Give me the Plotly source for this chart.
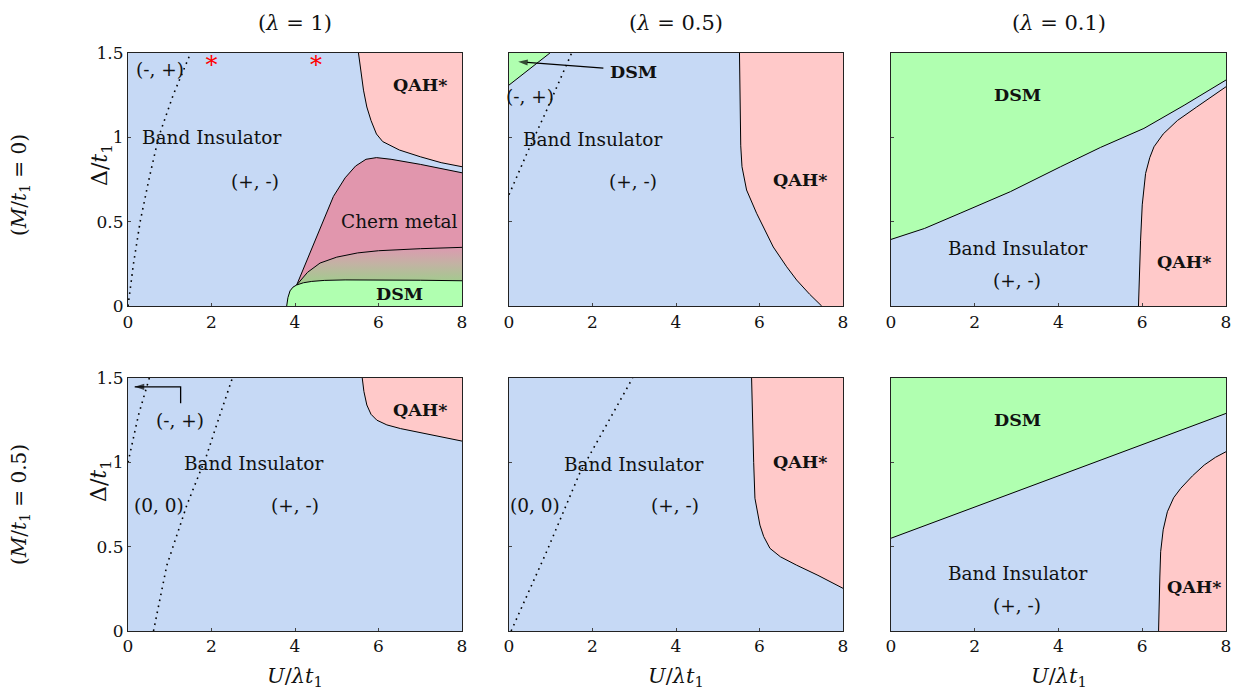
import plotly.graph_objects as go

# ---------------- colours ----------------
BLUE = '#c6d9f5'
PINK = '#ffc9c9'
GREEN = '#b0ffb0'
CHERN = '#e196ad'
FONT = 'DejaVu Serif'

# ---------------- data: panel 1 (lambda=1, M=0) ----------------
p1_dot_x = [0.0, 0.13, 0.29, 0.50, 0.73, 1.08, 1.50]
p1_dot_y = [0.0, 0.25, 0.50, 0.75, 1.00, 1.25, 1.50]
p1_qah_x = [5.52, 5.58, 5.64, 5.72, 5.82, 5.95, 6.10, 6.50, 7.00, 7.50, 8.00]
p1_qah_y = [1.50, 1.38, 1.28, 1.18, 1.10, 1.02, 0.975, 0.925, 0.885, 0.85, 0.826]
p1_chern_top_x = [4.04, 4.50, 4.92, 5.20, 5.45, 5.70, 5.95, 6.30, 7.00, 8.00]
p1_chern_top_y = [0.125, 0.40, 0.65, 0.76, 0.83, 0.87, 0.88, 0.87, 0.84, 0.79]
p1_chern_bot_x = [4.04, 4.30, 4.60, 5.00, 5.50, 6.00, 7.00, 8.00]
p1_chern_bot_y = [0.125, 0.20, 0.255, 0.29, 0.315, 0.328, 0.34, 0.348]
p1_dsm_top_x = [3.80, 3.83, 3.88, 3.95, 4.04, 4.20, 4.40, 4.70, 5.20, 6.00, 7.00, 8.00]
p1_dsm_top_y = [0.0, 0.05, 0.09, 0.112, 0.125, 0.138, 0.146, 0.152, 0.155, 0.155, 0.153, 0.150]
p1_star_x = [2.0, 4.5]
p1_star_y = [1.42, 1.42]

# ---------------- panel 2 (lambda=0.5, M=0) ----------------
p2_dsm_x = [0.0, 0.98]
p2_dsm_y = [1.31, 1.50]
p2_dot_x = [0.0, 0.42, 0.90, 1.50]
p2_dot_y = [0.66, 0.90, 1.16, 1.50]
p2_qah_x = [5.52, 5.53, 5.55, 5.58, 5.69, 5.93, 6.09, 6.33, 6.65, 6.89, 7.20, 7.49]
p2_qah_y = [1.50, 1.20, 0.95, 0.826, 0.688, 0.55, 0.47, 0.35, 0.233, 0.154, 0.07, 0.0]
p2_arrow_x = [2.26, 0.22]
p2_arrow_y = [1.41, 1.448]

# ---------------- panel 3 (lambda=0.1, M=0) ----------------
p3_dsm_x = [0.0, 0.8, 1.65, 2.85, 4.05, 5.0, 6.04, 7.0, 8.0]
p3_dsm_y = [0.395, 0.46, 0.55, 0.678, 0.826, 0.94, 1.053, 1.19, 1.34]
p3_qah_x = [5.91, 5.93, 5.96, 6.00, 6.08, 6.18, 6.28, 6.50, 6.84, 7.30, 7.70, 8.00]
p3_qah_y = [0.0, 0.20, 0.39, 0.60, 0.786, 0.88, 0.944, 1.02, 1.10, 1.18, 1.25, 1.30]

# ---------------- panel 4 (lambda=1, M=0.5) ----------------
p4_dot1_x = [0.0, 0.25, 0.51]
p4_dot1_y = [1.0, 1.28, 1.50]
p4_dot2_x = [0.61, 0.93, 1.41, 1.88, 2.20, 2.50]
p4_dot2_y = [0.0, 0.39, 0.747, 1.04, 1.28, 1.50]
p4_qah_x = [5.61, 5.65, 5.72, 5.82, 5.96, 6.20, 6.53, 7.00, 7.50, 8.00]
p4_qah_y = [1.50, 1.42, 1.34, 1.285, 1.25, 1.222, 1.20, 1.175, 1.15, 1.126]
p4_arrow_x = [1.26, 1.26, 0.16]
p4_arrow_y = [1.35, 1.448, 1.448]

# ---------------- panel 5 (lambda=0.5, M=0.5) ----------------
p5_dot_x = [0.05, 0.90, 1.70, 2.33, 2.96]
p5_dot_y = [0.0, 0.47, 0.94, 1.22, 1.50]
p5_qah_x = [5.81, 5.83, 5.86, 5.89, 5.95, 6.01, 6.10, 6.25, 6.50, 6.89, 7.40, 8.00]
p5_qah_y = [1.50, 1.25, 1.00, 0.787, 0.70, 0.628, 0.56, 0.49, 0.44, 0.39, 0.33, 0.253]

# ---------------- panel 6 (lambda=0.1, M=0.5) ----------------
p6_dsm_x = [0.0, 8.0]
p6_dsm_y = [0.55, 1.29]
p6_qah_x = [6.39, 6.40, 6.42, 6.44, 6.50, 6.60, 6.75, 6.92, 7.20, 7.48, 7.75, 8.00]
p6_qah_y = [0.0, 0.15, 0.32, 0.47, 0.60, 0.707, 0.79, 0.846, 0.92, 0.984, 1.03, 1.063]

# ---------------- text ----------------
col_titles = ['(<i>λ</i> = 1)', '(<i>λ</i> = 0.5)', '(<i>λ</i> = 0.1)']
row_titles = ['(<i>M</i>/<i>t</i><sub>1</sub> = 0)', '(<i>M</i>/<i>t</i><sub>1</sub> = 0.5)']
x_title = '<i>U</i>/<i>λt</i><sub>1</sub>'
y_title = 'Δ/<i>t</i><sub>1</sub>'
x_ticks = [0, 2, 4, 6, 8]
y_ticks = [0, 0.5, 1, 1.5]
y_ticklabels = ['0', '0.5', '1', '1.5']

# labels: (panel, x, y, text, bold)
labels = [
    (1, 0.77, 1.40, '(-, +)', False),
    (1, 2.0, 1.0, 'Band Insulator', False),
    (1, 3.04, 0.74, '(+, -)', False),
    (1, 7.0, 1.31, 'QAH*', True),
    (1, 6.5, 0.5, 'Chern metal', False),
    (1, 6.5, 0.07, 'DSM', True),
    (2, 0.5, 1.24, '(-, +)', False),
    (2, 2.01, 0.99, 'Band Insulator', False),
    (2, 2.97, 0.737, '(+, -)', False),
    (2, 6.99, 0.747, 'QAH*', True),
    (2, 2.99, 1.39, 'DSM', True),
    (3, 3.01, 1.25, 'DSM', True),
    (3, 3.01, 0.342, 'Band Insulator', False),
    (3, 3.01, 0.154, '(+, -)', False),
    (3, 7.0, 0.263, 'QAH*', True),
    (4, 1.24, 1.25, '(-, +)', False),
    (4, 3.0, 0.994, 'Band Insulator', False),
    (4, 0.75, 0.747, '(0, 0)', False),
    (4, 4.0, 0.747, '(+, -)', False),
    (4, 7.0, 1.31, 'QAH*', True),
    (5, 2.99, 0.99, 'Band Insulator', False),
    (5, 0.62, 0.747, '(0, 0)', False),
    (5, 3.98, 0.747, '(+, -)', False),
    (5, 6.99, 1.0, 'QAH*', True),
    (6, 3.01, 1.25, 'DSM', True),
    (6, 3.01, 0.342, 'Band Insulator', False),
    (6, 3.01, 0.15, '(+, -)', False),
    (6, 7.24, 0.263, 'QAH*', True),
]

# ---------------- figure ----------------
fig = go.Figure()
XD = [(0.1035, 0.3735), (0.4115, 0.6815), (0.7203, 0.9911)]
YD = [(0.559, 0.9236), (0.0908, 0.4553)]
W, H = 1237, 694


def ax(k):
    return ('x' if k == 1 else f'x{k}'), ('y' if k == 1 else f'y{k}')


def fill(k, xs, ys, color, grad=None):
    xa, ya = ax(k)
    kw = dict(fillcolor=color)
    if grad is not None:
        kw = dict(fillgradient=grad)
    fig.add_trace(go.Scatter(x=xs, y=ys, mode='lines', fill='toself',
                             line=dict(width=0), xaxis=xa, yaxis=ya,
                             hoverinfo='skip', showlegend=False, **kw))


def line(k, xs, ys, dotted=False, width=1.0):
    xa, ya = ax(k)
    ln = dict(color='black', width=width)
    if dotted:
        ln = dict(color='black', width=1.6, dash='1.6px,4.5px')
    fig.add_trace(go.Scatter(x=xs, y=ys, mode='lines', line=ln,
                             xaxis=xa, yaxis=ya, hoverinfo='skip',
                             showlegend=False))


def arrow(k, xs, ys):
    xa, ya = ax(k)
    sizes = [0] * (len(xs) - 1) + [10]
    fig.add_trace(go.Scatter(x=xs, y=ys, mode='lines+markers',
                             line=dict(color='black', width=1.3),
                             marker=dict(symbol='arrow', angleref='previous',
                                         size=sizes, color='black',
                                         line=dict(width=0)),
                             xaxis=xa, yaxis=ya, cliponaxis=False,
                             hoverinfo='skip', showlegend=False))


# panel 1
fill(1, p1_qah_x + [8, 8], p1_qah_y + [1.5, 1.5], PINK)
fill(1, p1_chern_top_x + p1_chern_bot_x[::-1], p1_chern_top_y + p1_chern_bot_y[::-1], CHERN)
fill(1, p1_chern_bot_x + p1_dsm_top_x[::-1], p1_chern_bot_y + p1_dsm_top_y[::-1], CHERN,
     grad=dict(type='vertical', start=0.15, stop=0.345,
               colorscale=[[0, '#a4c98f'], [0.5, '#c2b3a3'], [1, '#dc9bb0']]))
fill(1, p1_dsm_top_x + [8, 3.8], p1_dsm_top_y + [0, 0], GREEN)
line(1, p1_qah_x, p1_qah_y)
line(1, p1_chern_top_x, p1_chern_top_y)
line(1, p1_chern_bot_x, p1_chern_bot_y)
line(1, p1_dsm_top_x, p1_dsm_top_y)
line(1, p1_dot_x, p1_dot_y, dotted=True)
fig.add_trace(go.Scatter(x=p1_star_x, y=p1_star_y, mode='text', text=['*', '*'],
                         textfont=dict(color='red', size=24, family=FONT),
                         textposition='middle center', xaxis='x', yaxis='y',
                         cliponaxis=False, hoverinfo='skip', showlegend=False))

# panel 2
fill(2, p2_dsm_x + [0], p2_dsm_y + [1.5], GREEN)
line(2, p2_dsm_x, p2_dsm_y)
fill(2, p2_qah_x + [8, 8], p2_qah_y + [0, 1.5], PINK)
line(2, p2_qah_x, p2_qah_y)
line(2, p2_dot_x, p2_dot_y, dotted=True)
arrow(2, p2_arrow_x, p2_arrow_y)

# panel 3
fill(3, p3_dsm_x + [8, 0], p3_dsm_y + [1.5, 1.5], GREEN)
line(3, p3_dsm_x, p3_dsm_y)
fill(3, p3_qah_x + [8], p3_qah_y + [0], PINK)
line(3, p3_qah_x, p3_qah_y)

# panel 4
fill(4, p4_qah_x + [8], p4_qah_y + [1.5], PINK)
line(4, p4_qah_x, p4_qah_y)
line(4, p4_dot1_x, p4_dot1_y, dotted=True)
line(4, p4_dot2_x, p4_dot2_y, dotted=True)
arrow(4, p4_arrow_x, p4_arrow_y)

# panel 5
fill(5, p5_qah_x + [8], p5_qah_y + [1.5], PINK)
line(5, p5_qah_x, p5_qah_y)
line(5, p5_dot_x, p5_dot_y, dotted=True)

# panel 6
fill(6, p6_dsm_x + [8, 0], p6_dsm_y + [1.5, 1.5], GREEN)
line(6, p6_dsm_x, p6_dsm_y)
fill(6, p6_qah_x + [8], p6_qah_y + [0], PINK)
line(6, p6_qah_x, p6_qah_y)

# axes
layout = dict(
    width=W, height=H, autosize=False,
    margin=dict(l=0, r=0, t=0, b=0, pad=0),
    paper_bgcolor='white', plot_bgcolor=BLUE,
    font=dict(family=FONT, size=16, color='#111'),
    showlegend=False,
)
for k in range(1, 7):
    r, c = (k - 1) // 3, (k - 1) % 3
    xa, ya = ax(k)
    xname = 'xaxis' if k == 1 else f'xaxis{k}'
    yname = 'yaxis' if k == 1 else f'yaxis{k}'
    layout[xname] = dict(domain=list(XD[c]), range=[0, 8], anchor=ya,
                         tickvals=x_ticks, ticks='inside', ticklen=3,
                         automargin=False,
                         showgrid=False, zeroline=False, showline=True,
                         mirror=True, linecolor='#222', linewidth=1.2,
                         tickfont=dict(size=17, family=FONT, color='#111'))
    ydict = dict(domain=list(YD[r]), range=[0, 1.5], anchor=xa,
                 tickvals=y_ticks, ticks='inside', ticklen=3,
                 showticklabels=(c == 0), automargin=False,
                 showgrid=False, zeroline=False, showline=True,
                 mirror=True, linecolor='#222', linewidth=1.2,
                 tickfont=dict(size=17, family=FONT, color='#111'))
    if c == 0:
        ydict['ticktext'] = y_ticklabels
    layout[yname] = ydict
fig.update_layout(**layout)

ann = []
for (k, x, y, t, b) in labels:
    xa, ya = ax(k)
    ann.append(dict(x=x, y=y, xref=xa, yref=ya, text=(f'<b>{t}</b>' if b else t),
                    xanchor='center', yanchor='middle', showarrow=False,
                    font=dict(size=(17.5 if b else 18.5), family=FONT, color='#111')))

# column titles / axis titles
for c in range(3):
    xc = (XD[c][0] + XD[c][1]) / 2
    ann.append(dict(x=xc, y=1 - 23 / H, xref='paper', yref='paper',
                    xanchor='center', yanchor='middle',
                    text=col_titles[c], showarrow=False,
                    font=dict(size=21, family=FONT, color='#111')))
    ann.append(dict(x=xc, y=1 - 677 / H, xref='paper', yref='paper',
                    xanchor='center', yanchor='middle',
                    text=x_title, showarrow=False,
                    font=dict(size=21, family=FONT, color='#111')))
ytitle_px = [165, 481]
rowtitle_px = [185, 505]
for r in range(2):
    ann.append(dict(x=101 / W, y=1 - ytitle_px[r] / H, xref='paper', yref='paper', text=y_title,
                    xanchor='center', yanchor='middle',
                    textangle=-90, showarrow=False,
                    font=dict(size=22, family=FONT, color='#111')))
    ann.append(dict(x=20 / W, y=1 - rowtitle_px[r] / H, xref='paper', yref='paper', text=row_titles[r],
                    xanchor='center', yanchor='middle',
                    textangle=-90, showarrow=False,
                    font=dict(size=20, family=FONT, color='#111')))
fig.update_layout(annotations=ann)

fig.write_html('out.html', config={'displayModeBar': False},
               post_script="document.body.style.margin='0px';document.body.style.overflow='hidden';")
